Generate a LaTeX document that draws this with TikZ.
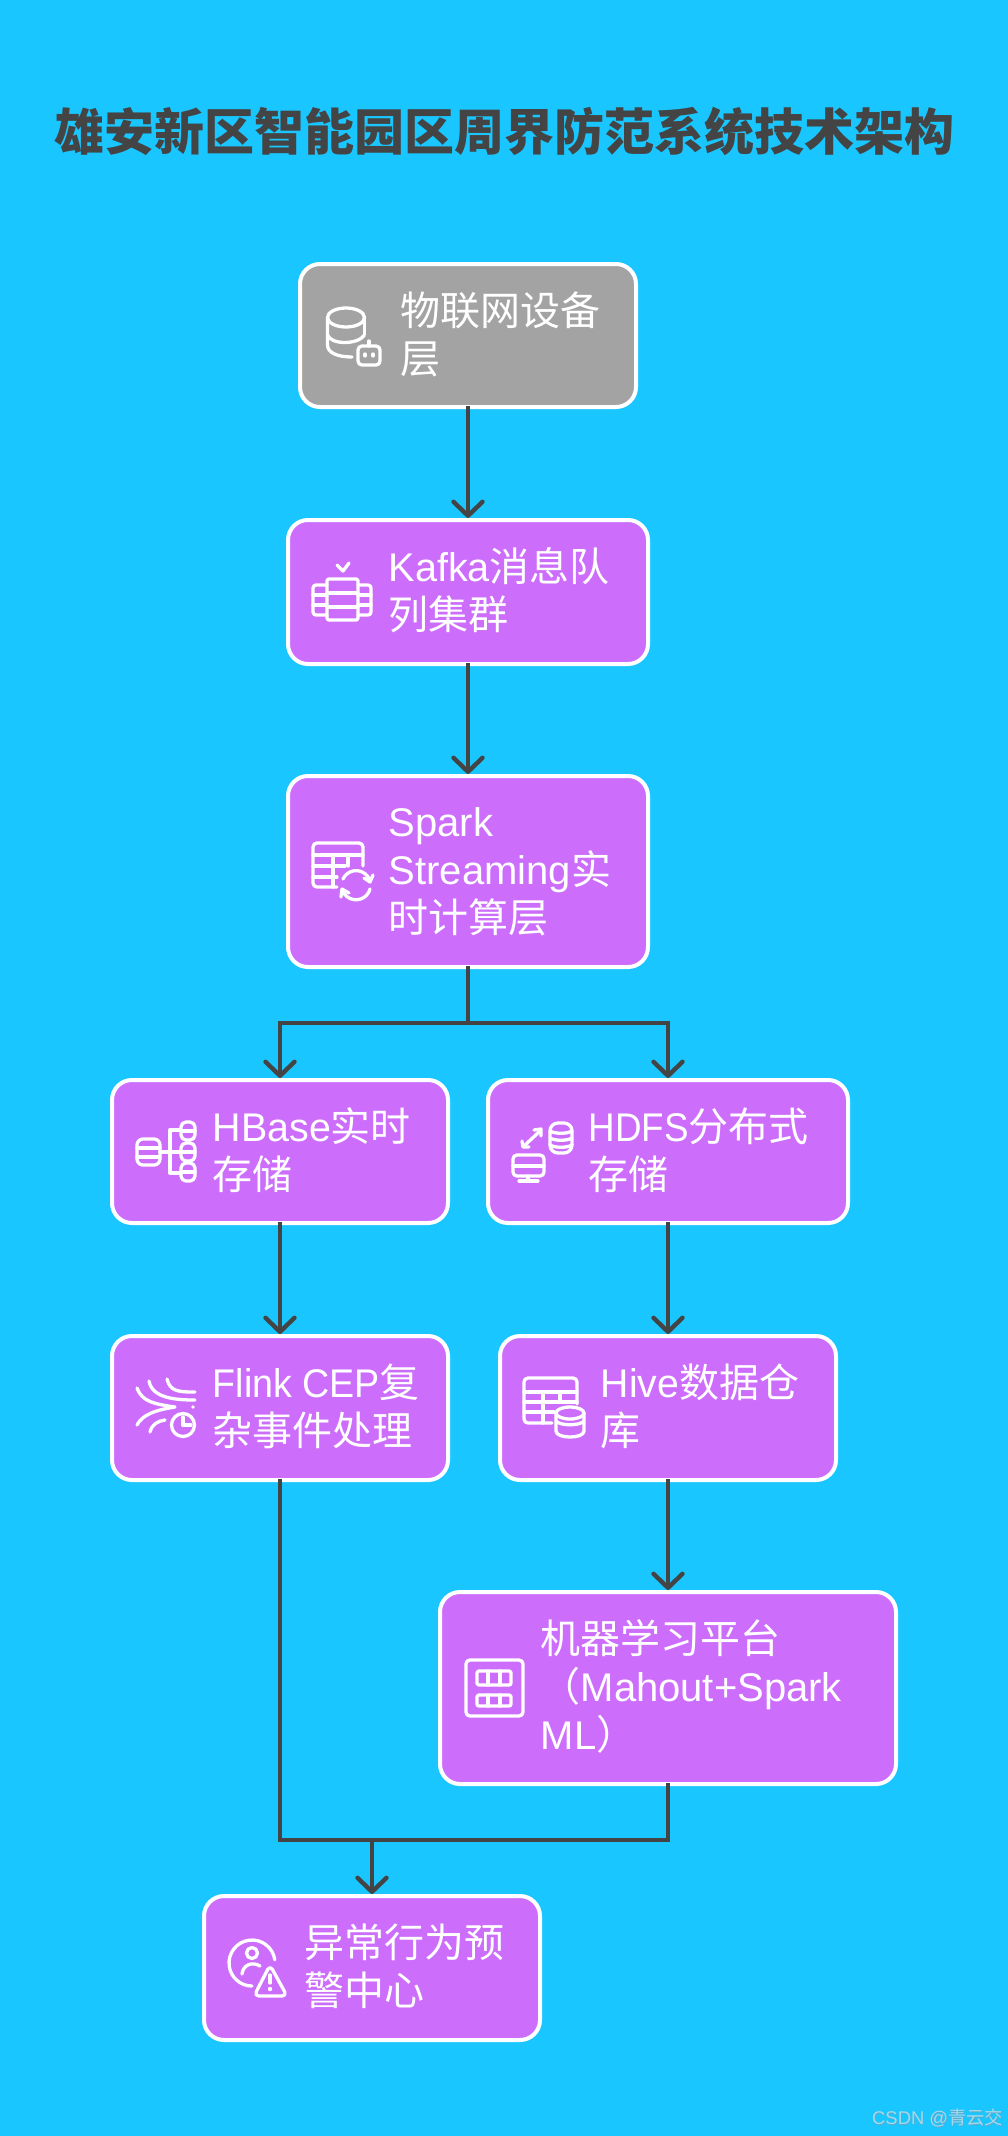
\documentclass[tikz,border=0pt]{standalone}
\usepackage{fontspec}
\setmainfont{Liberation Sans}
\newfontfamily\cjk{Noto Sans CJK SC}
\usetikzlibrary{arrows.meta}
\definecolor{bgblue}{HTML}{1AC6FF}
\definecolor{boxpurple}{HTML}{CC6EFB}
\definecolor{boxgrey}{HTML}{A3A3A3}
\definecolor{ink}{HTML}{444444}
\definecolor{mark}{HTML}{A6D8EA}
\definecolor{markshadow}{HTML}{5FA9C9}
\newcommand{\zh}[1]{{\cjk #1}}
\newcommand{\sx}[2]{\scalebox{#1}[1]{#2}}
\newcommand{\bx}[6]{\node[box,#6,minimum width={#4-#2-4pt},minimum height={#5-#3-4pt}] (#1) at ({(#2+#4)/2},{(#3+#5)/2}) {};}
\newcommand{\cyl}[5]{
  \draw[icon] (#1,{#2+#5}) ellipse [x radius=#4,y radius=#5];
  \draw[icon] ({#1-#4},{#2+#5}) -- ({#1-#4},{#3-#5}) .. controls ({#1-#4},{#3+#5/3}) and ({#1+#4},{#3+#5/3}) .. ({#1+#4},{#3-#5}) -- ({#1+#4},{#2+#5});}
\tikzset{
  box/.style={draw=white,line width=4pt,rounded corners=20pt,fill=boxpurple,inner sep=0pt,outer sep=auto},
  label/.style={text=white,anchor=west,align=left,inner sep=0pt,font=\fontsize{40}{48}\selectfont},
  edge/.style={draw=ink,line width=4.4pt,shorten <=-3pt},
  tip/.style={-{Straight Barb[length=14pt,width=29pt,line width=4.4pt,round]}},
  icon/.style={draw=white,line width=3.3pt,line cap=round,line join=round},
  rc/.style={rounded corners=#1},
  rc/.default=4pt
}
\begin{document}
\begin{tikzpicture}[x=1pt,y=-1pt]
\path[use as bounding box,fill=bgblue] (0,0) rectangle (1008,2136);

\node[text=ink,font=\cjk\bfseries\fontsize{50}{60}\selectfont,inner sep=0pt] (title) at (504,131) {雄安新区智能园区周界防范系统技术架构};

% boxes
\bx{iot}{298}{262}{638}{409}{fill=boxgrey}
\bx{kafka}{286}{518}{650}{666}{}
\bx{spark}{286}{774}{650}{969}{}
\bx{hbase}{110}{1078}{450}{1225}{}
\bx{hdfs}{486}{1078}{850}{1225}{}
\bx{flink}{110}{1334}{450}{1482}{}
\bx{hive}{498}{1334}{838}{1482}{}
\bx{ml}{438}{1590}{898}{1786}{}
\bx{alert}{202}{1894}{542}{2042}{}

% box texts
\node[label] (tiot) at (400,334.3) {\zh{物联网设备}\\\zh{层}};
\node[label] (tkafka) at (388.5,590.3) {\sx{0.99}{Kafka}\zh{消息队}\\\zh{列集群}};
\node[label] (tspark) at (388.5,871.3) {Spark\\Streaming\zh{实}\\\zh{时计算层}};
\node[label] (thbase) at (212.5,1150.3) {\sx{0.985}{HBase}\zh{实时}\\\zh{存储}};
\node[label] (thdfs) at (588.5,1150.3) {\sx{0.92}{HDFS}\zh{分布式}\\\zh{存储}};
\node[label] (tflink) at (212.5,1406.3) {\sx{0.94}{Flink CEP}\zh{复}\\\zh{杂事件处理}};
\node[label] (thive) at (600.5,1406.3) {\sx{0.98}{Hive}\zh{数据仓}\\\zh{库}};
\node[label] (tml) at (540.5,1686.3) {\zh{机器学习平台}\\\zh{（}Mahout+Spark\\ML\zh{）}};
\node[label] (talert) at (304.5,1966.3) {\zh{异常行为预}\\\zh{警中心}};

% connectors
\coordinate (split) at (468,1023);
\coordinate (merge) at (372,1840);
\draw[edge,tip] (iot.south) -- (kafka.north);
\draw[edge,tip] (kafka.south) -- (spark.north);
\draw[edge] (spark.south) -- (split);
\draw[edge,tip,shorten <=0pt] (split) -| (hbase.north);
\draw[edge,tip,shorten <=0pt] (split) -| (hdfs.north);
\draw[edge,tip] (hbase.south) -- (flink.north);
\draw[edge,tip] (hdfs.south) -- (hive.north);
\draw[edge,tip] (hive.south) -- (ml.north);
\draw[edge] (flink.south) |- (merge);
\draw[edge] (ml.south) |- (merge);
\draw[edge,tip,shorten <=0pt] (merge) -- (alert.north);

% icon: IoT
\draw[icon] (346,317.5) ellipse [x radius=18.5,y radius=9.5];
\draw[icon] (327.5,317.5) -- (327.5,345) .. controls (327.5,353) and (338,357) .. (352,357);
\draw[icon] (364.5,317.5) -- (364.5,334);
\draw[icon] (327.5,335) .. controls (331,345) and (358,345) .. (364.5,335);
\draw[icon,rc] (358,346) rectangle (380,365);
\draw[icon] (369,341) -- (369,346);
\draw[icon] (365,354) -- (365,356) (373,354) -- (373,356);

% icon: Kafka
\draw[icon] (337,565) -- (343,571) -- (349,563);
\draw[icon,rc=2pt] (327,579) rectangle (358,620);
\draw[icon] (327,593) -- (358,593) (327,607) -- (358,607);
\draw[icon,rc=3pt] (327,585) -- (313,585) -- (313,615) -- (327,615);
\draw[icon] (313,595) -- (327,595) (313,605) -- (327,605);
\draw[icon,rc=3pt] (358,585) -- (371,585) -- (371,615) -- (358,615);
\draw[icon] (358,595) -- (371,595) (358,605) -- (371,605);

% icon: Spark
\draw[icon,rc] (337,887) -- (313,887) -- (313,843) -- (363,843) -- (363,866);
\draw[icon] (313,855) -- (363,855) (313,866) -- (345,866) (313,877) -- (337,877);
\draw[icon] (333,855) -- (333,887) (348,855) -- (348,866);
\draw[icon] (343,879) arc [start angle=-155,end angle=-15,radius=14.5];
\draw[icon] (364,878) -- (370,882) -- (373,875);
\draw[icon] (370,889) arc [start angle=15,end angle=155,radius=14.5];
\draw[icon] (341,897) -- (342,889) -- (349,893);

% icon: HBase
\draw[icon,rc=6pt] (137,1139) rectangle (160,1165);
\draw[icon] (137,1148) -- (160,1148) (137,1157) -- (160,1157);
\foreach \a/\b in {1122/1140,1143/1161,1163/1181}{
  \draw[icon,rc=5pt] (181,\a) rectangle (195,\b);
  \draw[icon] (181,{(\a+\b)/2}) -- (195,{(\a+\b)/2});
}
\draw[icon] (180,1130) -- (170,1130) -- (170,1173) -- (180,1173) (160,1152) -- (181,1152);

% icon: Flink
\draw[icon] (167,1379) .. controls (170,1392) and (180,1392) .. (195,1392);
\draw[icon] (149,1381) .. controls (152,1398) and (175,1400) .. (195,1400);
\draw[icon] (137,1388) .. controls (142,1402) and (155,1404) .. (175,1407) .. controls (155,1410) and (142,1415) .. (137,1425);
\draw[icon] (150,1432) .. controls (152,1424) and (158,1421) .. (165,1420);
\fill[white] (193,1407) circle [radius=1.8];
\draw[icon] (183,1425) circle [radius=11.5];
\draw[icon] (183,1417) -- (183,1425) -- (191,1425);

% icon: HDFS
\draw[icon,rc=8pt] (550,1123) rectangle (572,1153);
\draw[icon] (550,1131) .. controls (555,1134) and (567,1134) .. (572,1131);
\draw[icon] (550,1138) .. controls (555,1141) and (567,1141) .. (572,1138);
\draw[icon] (550,1145) .. controls (555,1148) and (567,1148) .. (572,1145);
\draw[icon] (524,1146) -- (540,1131);
\draw[icon] (522,1141) -- (523,1147) -- (529,1147);
\draw[icon] (534,1130) -- (541,1129) -- (541,1136);
\draw[icon,rc] (513,1155) rectangle (544,1176);
\draw[icon] (513,1166) -- (544,1166);
\draw[icon] (519,1181) -- (538,1181) (528,1176) -- (528,1181);

% icon: Hive
\draw[icon,rc] (552,1423) -- (524,1423) -- (524,1378) -- (577,1378) -- (577,1404);
\draw[icon] (524,1392) -- (577,1392) (524,1402) -- (577,1402) (524,1412) -- (554,1412);
\draw[icon] (543,1392) -- (543,1423) (560,1392) -- (560,1402);
\cyl{570}{1407}{1437}{14}{6}
\draw[icon] (556,1421) .. controls (560,1426) and (580,1426) .. (584,1421);

% icon: machine learning
\draw[icon,rc] (466,1660) rectangle (523,1716);
\draw[icon,rc=2pt] (477,1671) rectangle (511,1685);
\draw[icon,rc=2pt] (477,1695) rectangle (511,1706);
\draw[icon] (488,1671) -- (488,1685) (500,1671) -- (500,1685);
\draw[icon] (488,1695) -- (488,1706) (500,1695) -- (500,1706);

% icon: alert
\draw[icon] (274.8,1959.8) arc [start angle=-8,end angle=-270,radius=23];
\draw[icon] (252,1953) circle [radius=5.5];
\draw[icon] (242,1974) .. controls (243,1965) and (252,1961) .. (260,1966);
\draw[icon,rounded corners=5pt] (270,1965) -- (254,1996) -- (287,1996) -- cycle;
\draw[icon] (270,1975) -- (270,1983);
\fill[white] (270,1989) circle [radius=2.2];

% watermark
\node[text=markshadow,anchor=west,inner sep=0pt,font=\fontsize{18.4}{22}\selectfont] (markb) at (872.7,2118.7) {CSDN @\zh{青云交}};
\node[text=mark,anchor=west,inner sep=0pt,font=\fontsize{18.4}{22}\selectfont] (markt) at (872,2118) {CSDN @\zh{青云交}};
\end{tikzpicture}
\end{document}
